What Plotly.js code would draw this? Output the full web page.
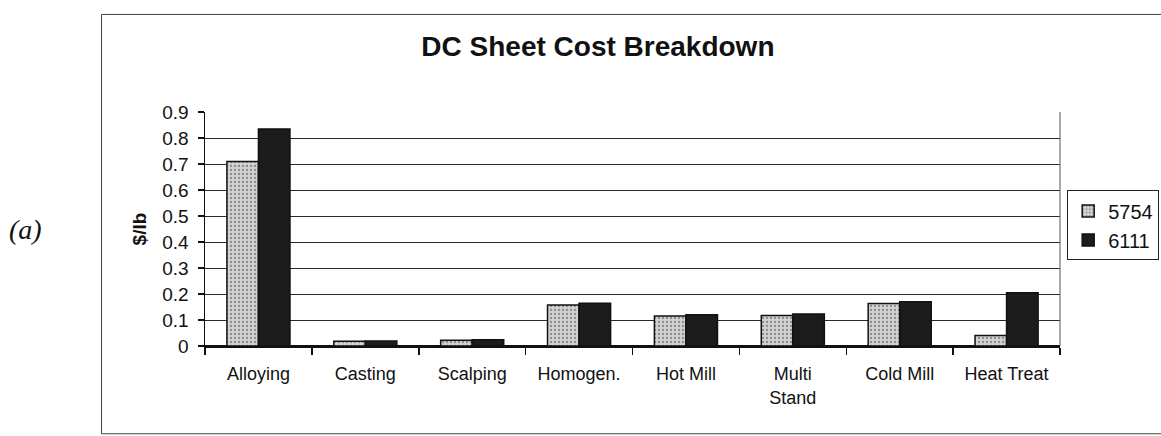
<!DOCTYPE html>
<html>
<head>
<meta charset="utf-8">
<script src="https://cdn.plot.ly/plotly-3.0.1.min.js"></script>
<style>html,body{margin:0;padding:0;background:#fff;}#chart{width:1161px;height:436px;}</style>
</head>
<body>
<div id="chart"></div>
<script>
const categories = ["Alloying", "Casting", "Scalping", "Homogen.", "Hot Mill", "Multi<br>Stand", "Cold Mill", "Heat Treat"];
const series5754 = [0.71, 0.018, 0.022, 0.158, 0.115, 0.117, 0.163, 0.04];
const series6111 = [0.835, 0.019, 0.024, 0.164, 0.12, 0.123, 0.17, 0.205];
const yTicks = [0, 0.1, 0.2, 0.3, 0.4, 0.5, 0.6, 0.7, 0.8, 0.9];
const yTickLabels = ["0", "0.1", "0.2", "0.3", "0.4", "0.5", "0.6", "0.7", "0.8", "0.9"];

const FONT = "Liberation Sans, Arial, sans-serif";
const INK = "#111";

const traces = [
  {
    type: "bar", name: "5754", x: categories, y: series5754,
    marker: {
      color: "#cfcfcf",
      pattern: {shape: ".", fgcolor: "#8a8a8a", bgcolor: "#d2d2d2", size: 4, solidity: 0.25},
      line: {color: "#111", width: 1.5}
    }
  },
  {
    type: "bar", name: "6111", x: categories, y: series6111,
    marker: {color: "#1c1c1c", line: {color: "#111", width: 1.5}}
  }
];

const layout = {
  width: 1161, height: 436,
  margin: {l: 205, r: 101, t: 112, b: 90, pad: 0, autoexpand: false},
  paper_bgcolor: "#fff", plot_bgcolor: "#fff",
  font: {family: FONT, color: INK, size: 18},
  barmode: "group", bargap: 0.41, bargroupgap: 0,
  showlegend: true,
  title: {
    text: "<b>DC Sheet Cost Breakdown</b>",
    font: {family: FONT, size: 28, color: INK},
    xref: "container", x: 0.515, xanchor: "center",
    yref: "container", y: 0.895, yanchor: "middle",
    automargin: false
  },
  xaxis: {
    type: "category", showgrid: false,
    showline: true, linecolor: "#111", linewidth: 1.5,
    ticks: "outside", tickson: "boundaries", ticklen: 7, tickcolor: "#111", tickwidth: 1.5,
    tickfont: {family: FONT, size: 18, color: INK},
    ticklabelstandoff: 11,
    automargin: false, fixedrange: true
  },
  yaxis: {
    range: [0, 0.9],
    tickmode: "array", tickvals: yTicks, ticktext: yTickLabels,
    showgrid: true, gridcolor: "#2a2a2a", gridwidth: 1,
    zeroline: true, zerolinecolor: "#111", zerolinewidth: 1.5,
    showline: true, linecolor: "#111", linewidth: 1.5,
    ticks: "outside", ticklen: 6, tickcolor: "#111", tickwidth: 1.5,
    tickfont: {family: FONT, size: 19, color: INK},
    ticklabelstandoff: 5,
    title: {text: "<b>$/lb</b>", font: {family: FONT, size: 19, color: INK}, standoff: 10},
    automargin: false, fixedrange: true
  },
  legend: {
    x: 1.116, xanchor: "right", y: 0.665, yanchor: "top",
    bgcolor: "#fff", bordercolor: "#222", borderwidth: 1,
    font: {family: FONT, size: 20, color: INK},
    itemwidth: 30, tracegroupgap: 2
  },
  shapes: [
    {type: "line", xref: "paper", yref: "paper", x0: 1, x1: 1, y0: 0, y1: 1,
     line: {color: "#555", width: 1}},
    {type: "rect", xref: "paper", yref: "paper", x0: -0.121, x1: 1.3, y0: -0.375, y1: 1.417,
     line: {color: "#444", width: 1}, layer: "below"}
  ],
  annotations: [
    {text: "<i>(a)</i>", xref: "paper", yref: "paper", x: -0.2105, y: 0.5,
     xanchor: "center", yanchor: "middle", showarrow: false,
     font: {family: "Liberation Serif, Times New Roman, serif", size: 28, color: INK}}
  ]
};

Plotly.newPlot("chart", traces, layout, {displayModeBar: false, staticPlot: true});
</script>
</body>
</html>
